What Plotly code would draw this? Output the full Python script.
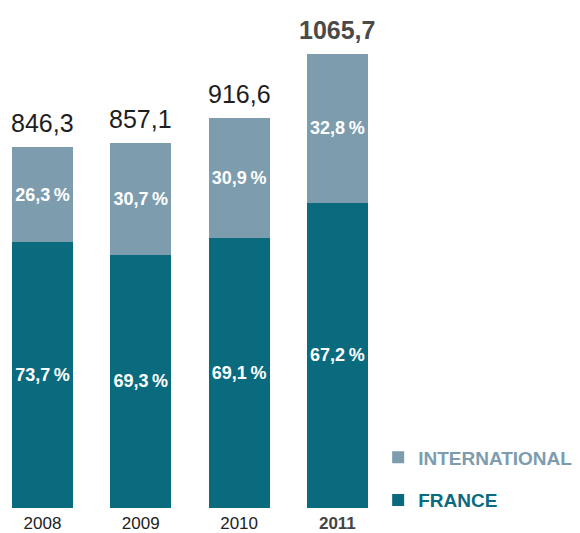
import plotly.graph_objects as go

years = ["2008", "2009", "2010", "2011"]
totals = [846.3, 857.1, 916.6, 1065.7]
france_pct = [73.7, 69.3, 69.1, 67.2]
intl_pct = [26.3, 30.7, 30.9, 32.8]

FRANCE_C = "#0b6b7e"
INTL_C = "#7d9cae"

def fmt(v):
    return f"{v:.1f}".replace(".", ",")

france_vals = [t * p / 100 for t, p in zip(totals, france_pct)]
intl_vals = [t * p / 100 for t, p in zip(totals, intl_pct)]

pct_font = dict(family="Liberation Sans Narrow, Liberation Sans, Arial", size=18, color="white", weight="bold")

fig = go.Figure()
fig.add_trace(go.Bar(
    x=years, y=france_vals, width=0.62,
    name=f"<span style='color:{FRANCE_C}'><b>FRANCE</b></span>",
    marker=dict(color=FRANCE_C, line=dict(width=0)),
    text=[fmt(v) + "\u2009%" for v in france_pct],
    textposition="inside", insidetextanchor="middle", textangle=0,
    insidetextfont=pct_font, constraintext="none",
    legendgroup="fr", legendrank=2, hoverinfo="skip",
))
fig.add_trace(go.Bar(
    x=years, y=intl_vals, width=0.62,
    name=f"<span style='color:{INTL_C}'><b>INTERNATIONAL</b></span>",
    marker=dict(color=INTL_C, line=dict(width=0)),
    text=[fmt(v) + "\u2009%" for v in intl_pct],
    textposition="inside", insidetextanchor="middle", textangle=0,
    insidetextfont=pct_font, constraintext="none",
    legendgroup="in", legendrank=1, hoverinfo="skip",
))

for i, (yr, tot) in enumerate(zip(years, totals)):
    last = i == len(years) - 1
    fig.add_annotation(
        x=i, y=tot, xref="x", yref="y", yanchor="bottom", xanchor="center", showarrow=False,
        yshift=8,
        text=f"<b>{fmt(tot)}</b>" if last else fmt(tot),
        font=dict(family="Liberation Sans, Arial", size=25,
                  color="#4a4a4a" if last else "#1e1e1e"),
    )

ticktext = [f"<span style='color:#444444'><b>{y}</b></span>" if i == len(years) - 1 else y
            for i, y in enumerate(years)]

fig.update_layout(
    width=580, height=533,
    margin=dict(l=0, r=0, t=0, b=25),
    barmode="stack",
    plot_bgcolor="white", paper_bgcolor="white",
    xaxis=dict(type="category", range=[-0.432, 5.468], showgrid=False, zeroline=False,
               showline=False, ticks="", tickvals=years, ticktext=ticktext,
               ticklabelstandoff=3,
               tickfont=dict(family="Liberation Sans, Arial", size=17, color="#222222")),
    yaxis=dict(visible=False, range=[0, 1192.5]),
    showlegend=True,
    legend=dict(x=0.652, xanchor="left", y=0.137, yanchor="top",
                traceorder="grouped", tracegroupgap=15,
                font=dict(family="Liberation Sans, Arial", size=19),
                bgcolor="rgba(0,0,0,0)", borderwidth=0, itemwidth=30),
    hovermode=False,
)

fig.write_html("out.html", config={"displayModeBar": False},
               post_script="document.body.style.margin='0';")
